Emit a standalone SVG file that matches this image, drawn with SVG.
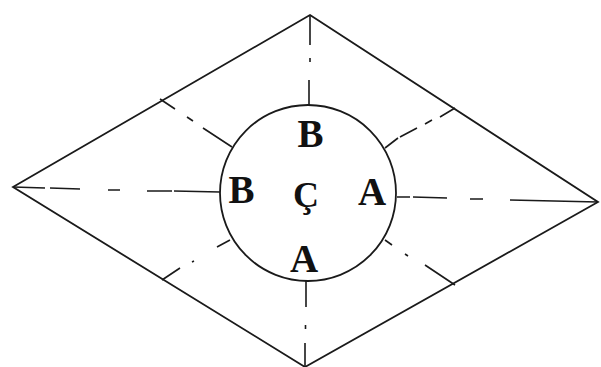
<svg xmlns="http://www.w3.org/2000/svg" width="601" height="367" viewBox="0 0 601 367">
<style>
.edge{fill:none;stroke:#1a1a1a;stroke-width:1.8;stroke-linejoin:miter}
.dd{fill:none;stroke:#1a1a1a;stroke-width:1.6;stroke-linecap:butt}
.lbl{font-family:"Liberation Serif","Times New Roman",serif;font-weight:bold;font-size:39px;fill:#111;text-anchor:middle}
.lbl2{font-family:"Liberation Serif","Times New Roman",serif;font-weight:bold;font-size:36px;fill:#111;text-anchor:middle}
</style>
<rect width="601" height="367" fill="#fff"/>
<g id="rhombus">
<polygon class="edge" points="310,15 598,202 305,367 13,187"/>
</g>
<g id="circle">
<circle class="edge" cx="308" cy="193" r="88"/>
</g>
<g id="connectors">
<path class="dd" d="M13,187 L45,188 M50,188 L80,189 M108,190 L120,190 M147,191 L172,191 M174,191 L220,192"/>
<path class="dd" d="M397,197 L410,197 M413,197 L447,198 M470,199 L483,199 M510,200 L598,202"/>
<path class="dd" d="M310,15 L310,45 M310,58 L310,62 M309,80 L309,105"/>
<path class="dd" d="M306,281 L306,307 M305.5,325 L305.5,329 M305,343 L305,366"/>
<path class="dd" d="M160,99 L175,109 M187,117 L193,121 M203,128 L232,147"/>
<path class="dd" d="M162,280 L180,268 M192,262 L194,261 M217,247 L230,240"/>
<path class="dd" d="M455,108 L440,117 M432,120 L425,124 M417,128 L400,137 M398,138 L385,148"/>
<path class="dd" d="M455,285 L425,265 M408,256 L405,254 M392,245 L385,240"/>
</g>
<g id="labels">
<text class="lbl" x="310.5" y="147">B</text>
<text class="lbl" x="241.5" y="203">B</text>
<text class="lbl2" x="306" y="207">Ç</text>
<text class="lbl" x="372" y="205">A</text>
<text class="lbl" x="304" y="272">A</text>
</g>
</svg>
